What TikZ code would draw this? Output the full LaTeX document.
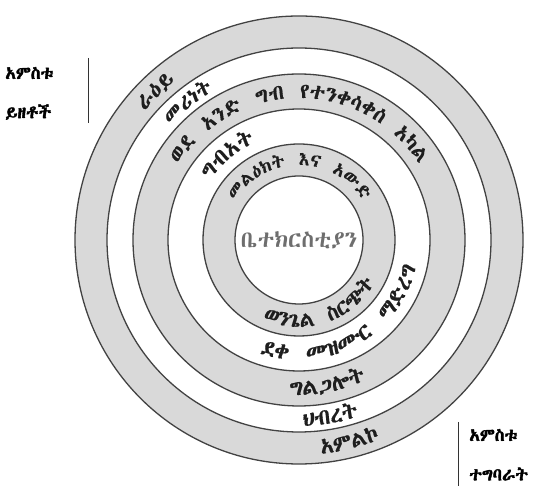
\documentclass[tikz,border=0pt]{standalone}
\usepackage{fontspec}
\usepackage{tikz}
\usetikzlibrary{positioning,decorations.text}
\IfFontExistsTF{Abyssinica SIL}{\def\ethname{Abyssinica SIL}}{%
  \IfFontExistsTF{FreeSerif}{\def\ethname{FreeSerif}}{\def\ethname{Noto Sans}}}
\newfontfamily\ethfont{\ethname}
\newfontfamily\ethwide[LetterSpace=8, WordSpace=1.6, FakeBold=0.7]{\ethname}
\newfontfamily\ethtight[WordSpace=1.6, FakeBold=0.7]{\ethname}
\newfontfamily\ethheavy[FakeBold=2.2]{\ethname}
\definecolor{ringgray}{HTML}{D9D9D9}
\definecolor{ringline}{HTML}{424242}
\definecolor{ringtext}{HTML}{1E1E1E}
\definecolor{coretext}{HTML}{6E6E6E}
\tikzset{
  ringfill/.style={draw=ringline, line width=1.3pt, fill=ringgray},
  ringhole/.style={draw=ringline, line width=1.3pt, fill=white},
  sidelab/.style={font=\ethheavy\fontsize{17.5}{20}\selectfont, anchor=west, inner sep=0pt},
  sidebar/.style={draw=black!80, line width=0.8pt},
}
\newcommand{\ringfont}{\ethwide\fontsize{22}{24}\selectfont\color{ringtext}}
\newcommand{\ringmid}{\ethtight\fontsize{21}{24}\selectfont\color{ringtext}}
\newcommand{\ringsmall}{\ethtight\fontsize{18}{20}\selectfont\color{ringtext}}
% text on the upper half (read clockwise) and on the lower half
\newcommand{\ringtop}[4][\ringfont]{%
  \path[decorate, decoration={text along path, text align=center, text={|#1|#4}}]
    (C) ++({#3+85}:#2) arc[start angle={#3+85}, end angle={#3-85}, radius=#2];}
\newcommand{\ringbot}[4][\ringfont]{%
  \path[decorate, decoration={text along path, text align=center, text={|#1|#4}}]
    (C) ++({#3-85}:#2) arc[start angle={#3-85}, end angle={#3+85}, radius=#2];}

\begin{document}
\begin{tikzpicture}[x=1pt, y=1pt]
  \useasboundingbox (0,0) rectangle (538,486);
  \coordinate (C) at (299,246);

  % rings
  \draw[ringfill] (C) circle[radius=224];
  \draw[ringhole] (C) circle[radius=192];
  \draw[ringfill] (C) circle[radius=166];
  \draw[ringhole] (C) circle[radius=131];
  \draw[ringfill] (C) circle[radius=96];
  \draw[ringhole] (C) circle[radius=64];

  \node[font=\ethfont\fontsize{23}{25}\selectfont, text=coretext] (church) at (C) {ቤተክርስቲያን};

  % contents
  \ringtop{201}{134}{ራዕይ}
  \ringtop[\ringmid]{172}{129}{መሪነት}
  \ringtop[\ringmid]{142}{90}{ወደ አንድ ግብ የተንቀሳቀሰ አካል}
  \ringtop{107}{130}{ግብአት}
  \ringtop[\ringsmall]{75}{90}{መልዕክት እና አውድ}

  % functions
  \ringbot{215}{-76}{አምልኮ}
  \ringbot{186}{-80}{ህብረት}
  \ringbot{155}{-79}{ግልጋሎት}
  \ringbot{120}{-61}{ደቀ መዝሙር ማድረግ}
  \ringbot[\ringmid]{87}{-72}{ወንጌል ስርጭት}

  % side labels
  \node[sidelab] (contA) at (5,413) {አምስቱ};
  \node[sidelab] (contB) at (5,374) {ይዘቶች};
  \coordinate (contTop) at (88,428);
  \coordinate (contBot) at (88,363);
  \draw[sidebar] (contTop) -- (contBot);

  \node[sidelab] (taskA) at (469,51) {አምስቱ};
  \node[sidelab] (taskB) at (469,12) {ተግባራት};
  \coordinate (taskTop) at (458,64);
  \coordinate (taskBot) at (458,0);
  \draw[sidebar] (taskTop) -- (taskBot);
\end{tikzpicture}
\end{document}
